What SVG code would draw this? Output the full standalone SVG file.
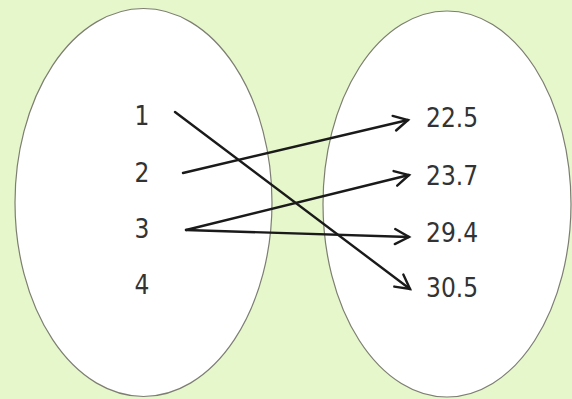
<svg xmlns="http://www.w3.org/2000/svg" width="572" height="399" viewBox="0 0 572 399">
<defs>
<style>
.set{fill:#ffffff;stroke:#7d7d72;stroke-width:1.2}
.lbl{font-family:"DejaVu Sans Condensed","DejaVu Sans",sans-serif;font-stretch:condensed;font-size:26px;fill:#333333}
.arr{fill:none;stroke:#1a1a1a;stroke-width:2.4;stroke-linecap:round;marker-end:url(#ah)}
</style>
<marker id="ah" markerUnits="userSpaceOnUse" markerWidth="20" markerHeight="20" viewBox="-16 -10 20 20" refX="0" refY="0" orient="auto">
<path d="M-14,-7.5 L0,0 L-14,7.5" fill="none" stroke="#1a1a1a" stroke-width="2.4" stroke-linecap="round" stroke-linejoin="miter"/>
</marker>
</defs>
<rect width="572" height="399" fill="#e5f7cb"/>
<g id="domain">
<ellipse class="set" cx="143.5" cy="202.5" rx="128.5" ry="194"/>
<text class="lbl" x="142" y="125" text-anchor="middle">1</text>
<text class="lbl" x="142" y="182" text-anchor="middle">2</text>
<text class="lbl" x="142" y="238" text-anchor="middle">3</text>
<text class="lbl" x="142" y="294" text-anchor="middle">4</text>
</g>
<g id="range">
<ellipse class="set" cx="447" cy="204" rx="124" ry="193"/>
<text class="lbl" x="426" y="127">22.5</text>
<text class="lbl" x="426" y="185">23.7</text>
<text class="lbl" x="426" y="242">29.4</text>
<text class="lbl" x="426" y="297">30.5</text>
</g>
<g id="connectors">
<line class="arr" x1="175" y1="112" x2="410" y2="289"/>
<line class="arr" x1="183" y1="173" x2="408" y2="120"/>
<line class="arr" x1="186" y1="230" x2="409" y2="175"/>
<line class="arr" x1="186" y1="230" x2="409" y2="237"/>
</g>
</svg>
